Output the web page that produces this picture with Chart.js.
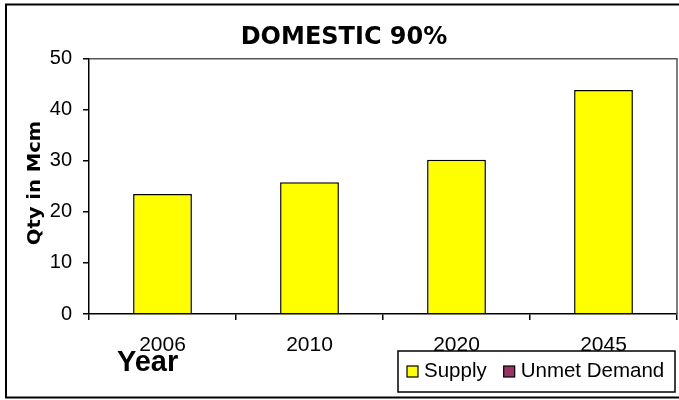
<!DOCTYPE html>
<html>
<head>
<meta charset="utf-8">
<script src="https://cdn.jsdelivr.net/npm/chart.js@4"></script>
<style>
    body { margin: 0; background: #fff; }
    canvas { display: block; }
</style>
</head>
<body>
<canvas id="domesticChart" width="679" height="400"></canvas>
<script>
// Years on the x axis
const years = ['2006', '2010', '2020', '2045'];

// Quantities in Mcm
const supply = [23.5, 25.8, 30.2, 43.9];
const unmetDemand = [0, 0, 0, 0];

// Y axis range
const yTicks = [0, 10, 20, 30, 40, 50];

const FONT = 'Liberation Sans, Arial, sans-serif';

// Frame, axis titles and the boxed legend
const decorations = {
    id: 'decorations',
    beforeDatasetsDraw(chart) {
        const { ctx, chartArea } = chart;
        ctx.save();
        ctx.strokeStyle = '#555';
        ctx.lineWidth = 1.5;
        ctx.beginPath();
        ctx.moveTo(chartArea.left, chartArea.top);
        ctx.lineTo(chartArea.right, chartArea.top);
        ctx.lineTo(chartArea.right, chartArea.bottom);
        ctx.stroke();
        ctx.restore();
    },
    afterDraw(chart) {
        const { ctx } = chart;
        ctx.save();

        // outer border
        ctx.strokeStyle = '#000';
        ctx.lineWidth = 2;
        ctx.strokeRect(6, 4.5, 690, 393);

        // y axis title
        ctx.save();
        ctx.translate(36, 183);
        ctx.rotate(-Math.PI / 2);
        ctx.scale(1.15, 1);
        ctx.font = 'bold 17px "DejaVu Sans"';
        ctx.fillStyle = '#000';
        ctx.textAlign = 'center';
        ctx.textBaseline = 'middle';
        ctx.fillText('Qty in Mcm', 0, 0);
        ctx.restore();

        // x axis title
        ctx.font = 'bold 29px ' + FONT;
        ctx.textBaseline = 'middle';
        ctx.textAlign = 'left';
        const yw = ctx.measureText('Year').width;
        ctx.fillStyle = '#fff';
        ctx.fillRect(115, 352, yw + 4, 22);
        ctx.fillStyle = '#000';
        ctx.fillText('Year', 117, 363);

        // legend box
        const box = { x: 398, y: 351, w: 277, h: 41 };
        ctx.fillStyle = '#fff';
        ctx.fillRect(box.x, box.y, box.w, box.h);
        ctx.strokeStyle = '#000';
        ctx.lineWidth = 1.5;
        ctx.strokeRect(box.x, box.y, box.w, box.h);

        ctx.font = '20px ' + FONT;
        let x = box.x + 9;
        const cy = box.y + box.h / 2;
        chart.data.datasets.forEach(ds => {
            ctx.fillStyle = ds.backgroundColor;
            ctx.fillRect(x, cy - 5.5, 11, 11);
            ctx.strokeStyle = '#000';
            ctx.lineWidth = 1.2;
            ctx.strokeRect(x, cy - 5.5, 11, 11);
            ctx.fillStyle = '#000';
            ctx.font = '20.5px ' + FONT;
            ctx.fillText(ds.label, x + 17, cy);
            x += 17 + ctx.measureText(ds.label).width + 17;
        });

        ctx.restore();
    }
};

const ctx = document.getElementById('domesticChart').getContext('2d');
const domesticChart = new Chart(ctx, {
    type: 'bar',
    data: {
        labels: years,
        datasets: [
            {
                label: 'Supply',
                data: supply,
                backgroundColor: '#FFFF00',
                borderColor: '#000',
                borderWidth: 1.5,
                barPercentage: 0.4,
                categoryPercentage: 1
            },
            {
                label: 'Unmet Demand',
                data: unmetDemand,
                backgroundColor: '#993366',
                borderColor: '#000',
                borderWidth: 1.5,
                barPercentage: 0.4,
                categoryPercentage: 1
            }
        ]
    },
    options: {
        responsive: false,
        animation: false,
        layout: { padding: { left: 11, right: 2, top: 0, bottom: 0 } },
        plugins: {
            legend: { display: false },
            tooltip: { enabled: false },
            title: {
                display: true,
                text: 'DOMESTIC 90%',
                color: '#000',
                font: { family: 'DejaVu Sans', size: 24, weight: 'bold' },
                padding: { top: 23, bottom: 7 }
            }
        },
        scales: {
            x: {
                stacked: true,
                ticks: {
                    color: '#000',
                    font: { family: FONT, size: 21 },
                    padding: 13
                },
                grid: {
                    drawOnChartArea: false,
                    offset: true,
                    tickLength: 6,
                    color: '#000',
                    lineWidth: 1.5
                },
                border: { color: '#000', width: 1.5 },
                afterFit(scale) { scale.height = 86; }
            },
            y: {
                stacked: true,
                min: yTicks[0],
                max: yTicks[yTicks.length - 1],
                afterBuildTicks(scale) {
                    scale.ticks = yTicks.map(v => ({ value: v }));
                },
                ticks: {
                    color: '#000',
                    font: { family: FONT, size: 20 },
                    padding: 11
                },
                grid: {
                    drawOnChartArea: false,
                    tickLength: 6,
                    color: '#000',
                    lineWidth: 1.5
                },
                border: { color: '#000', width: 1.5 },
                afterFit(scale) { scale.width = 78; }
            }
        }
    },
    plugins: [decorations]
});
</script>
</body>
</html>
